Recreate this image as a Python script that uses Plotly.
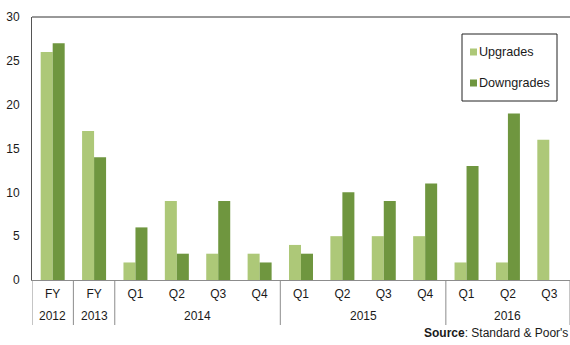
import plotly.graph_objects as go

# Rating actions per period
years = ["2012", "2013", "2014", "2014", "2014", "2014",
         "2015", "2015", "2015", "2015", "2016", "2016", "2016"]
periods = ["FY", "FY", "Q1", "Q2", "Q3", "Q4",
           "Q1", "Q2", "Q3", "Q4", "Q1", "Q2", "Q3"]
upgrades = [26, 17, 2, 9, 3, 3, 4, 5, 5, 5, 2, 2, 16]
downgrades = [27, 14, 6, 3, 9, 2, 3, 10, 9, 11, 13, 19, None]
series = [("Upgrades", upgrades), ("Downgrades", downgrades)]

LIGHT = "#adc878"
DARK = "#6f963f"
COLORS = [LIGHT, DARK]
TEXT = "#1a1a1a"
GRID = "#8c8c8c"
FONT = "Liberation Sans, Arial, sans-serif"

W, H = 570, 345
ML, MR, MT, MB = 32, 0, 17, 65
plot_w = W - ML - MR
plot_h = H - MT - MB


def px_x(p):
    return (p - ML) / plot_w


def px_y(p):
    return 1 - (p - MT) / plot_h


idx = list(range(len(periods)))

fig = go.Figure()
for (name, vals), color in zip(series, COLORS):
    fig.add_trace(go.Bar(x=idx, y=vals, name=name, showlegend=False,
                         marker=dict(color=color, line=dict(width=0))))

fig.update_layout(
    width=W, height=H,
    margin=dict(l=ML, r=MR, t=MT, b=MB),
    paper_bgcolor="white", plot_bgcolor="white",
    font=dict(family=FONT, size=12, color=TEXT),
    barmode="group", bargap=0.42, bargroupgap=0,
    showlegend=False,
    xaxis=dict(range=[-0.5, len(periods) - 0.5], tickmode="array",
               tickvals=idx, ticktext=periods, showline=True,
               linecolor=GRID, linewidth=1, showgrid=False, ticks="",
               zeroline=False, ticklabelstandoff=3,
               tickfont=dict(size=12, color=TEXT)),
    yaxis=dict(range=[0, 30], dtick=5, showline=True, linecolor="#555555",
               linewidth=1, showgrid=False, ticks="", zeroline=False,
               ticklabelstandoff=9,
               tickfont=dict(size=12, color=TEXT)),
)

# Year group labels and dividers under the axis
groups = []
for i, y in enumerate(years):
    if groups and groups[-1][0] == y:
        groups[-1][2] = i
    else:
        groups.append([y, i, i])
for y, start, end in groups:
    fig.add_annotation(xref="x", yref="paper", x=(start + end) / 2,
                       y=-36 / plot_h, yanchor="middle", showarrow=False,
                       text=y, font=dict(size=12, color=TEXT))
bounds = [groups[0][1] - 0.5] + [end + 0.5 for _, _, end in groups]
for b in bounds:
    fig.add_shape(type="line", xref="x", yref="paper", x0=b, x1=b,
                  y0=0, y1=-45 / plot_h, line=dict(color=GRID, width=1))

# Top border of the plot area
fig.add_shape(type="line", xref="paper", yref="paper", x0=0, x1=1, y0=1, y1=1,
              line=dict(color="#333333", width=1))

# Legend box with square swatches
fig.add_shape(type="rect", xref="paper", yref="paper",
              x0=px_x(462), x1=px_x(557), y0=px_y(101), y1=px_y(34),
              line=dict(color="#222222", width=1), fillcolor="white")
for k, ((name, _), color) in enumerate(zip(series, COLORS)):
    cy = 52 + 31 * k
    fig.add_shape(type="rect", xref="paper", yref="paper",
                  x0=px_x(470), x1=px_x(477), y0=px_y(cy + 3.5),
                  y1=px_y(cy - 3.5), line=dict(width=0), fillcolor=color)
    fig.add_annotation(xref="paper", yref="paper", x=px_x(477), y=px_y(cy),
                       xanchor="left", yanchor="middle", showarrow=False,
                       text=name, font=dict(size=12.6, color=TEXT))

fig.add_annotation(xref="paper", yref="paper", x=1, y=-53 / plot_h,
                   xanchor="right", yanchor="middle", showarrow=False,
                   text="<b>Source</b>: Standard & Poor's",
                   font=dict(size=12, color=TEXT))

fig.write_html("out.html")
